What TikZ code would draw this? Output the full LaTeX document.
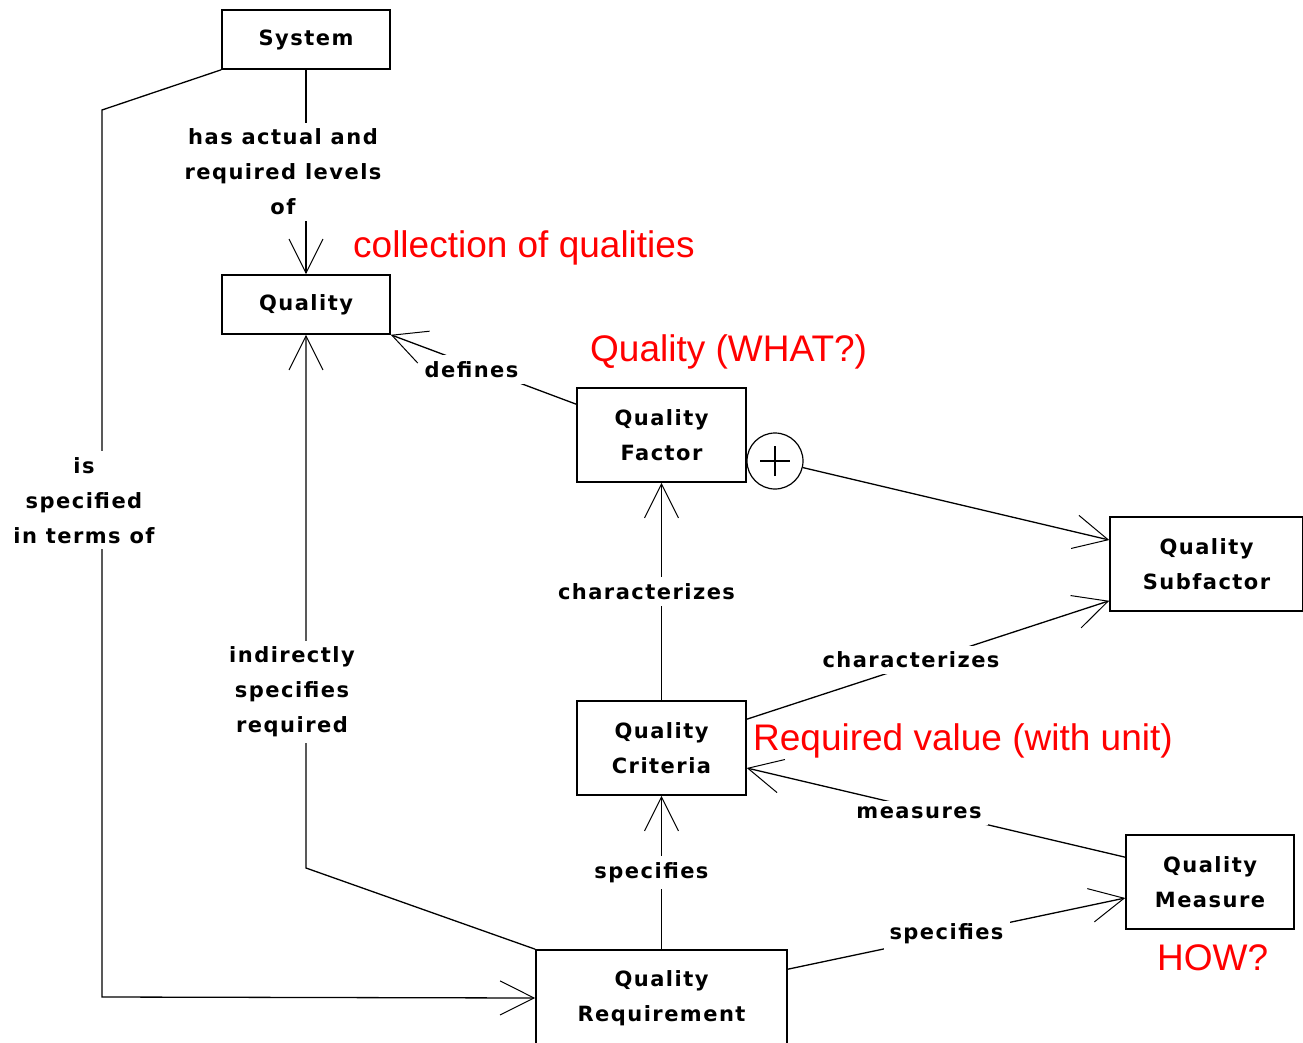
\documentclass[tikz,border=0pt]{standalone}
\usepackage{fontspec}
\newfontfamily\diafont{DejaVu Sans}[LetterSpace=7]
\newfontfamily\notefont{Liberation Sans}
\usetikzlibrary{arrows.meta}

\begin{document}
\begin{tikzpicture}[x=1pt,y=-1pt,
        box/.style={draw,rectangle,line width=1.6pt,inner sep=0pt,align=center,
            font=\diafont\bfseries\fontsize{21}{35}\selectfont},
        lbl/.style={midway,fill=white,inner sep=6pt,align=center,
            font=\diafont\bfseries\fontsize{21}{35}\selectfont},
        note/.style={anchor=west,inner sep=0pt,text=red,font=\notefont\fontsize{37}{44}\selectfont},
        arr/.style={line width=1.3pt,-{Straight Barb[length=34pt,width=34pt,line width=1pt]}}]
        \useasboundingbox (0,0) rectangle (1303,1043);

        \node[box,minimum width=168pt,minimum height=59pt] (SY) at (306,39.5) {System};
        \node[box,minimum width=168pt,minimum height=59pt] (QU) at (306,304.5) {Quality};
        \node[box,minimum width=169pt,minimum height=94pt] (QF) at (661.5,435) {Quality\\Factor};
        \node[box,minimum width=193pt,minimum height=94pt] (QS) at (1206.5,564) {Quality\\Subfactor};
        \node[box,minimum width=169pt,minimum height=94pt] (QC) at (661.5,748) {Quality\\Criteria};
        \node[box,minimum width=168pt,minimum height=94pt] (QM) at (1210,882) {Quality\\Measure};
        \node[box,minimum width=251pt,minimum height=96pt] (QR) at (661.5,998) {Quality\\Requirement};
        \node[draw,circle,line width=1.2pt,minimum size=56pt,inner sep=0pt] (OR) at (775,461) {};
        \draw[line width=1.2pt] ([xshift=-15pt]OR.center) -- ([xshift=15pt]OR.center)
            ([yshift=-15pt]OR.center) -- ([yshift=15pt]OR.center);

        \path (SY) edge[arr] node[lbl,xshift=-23pt]{has actual and\\required levels\\of} (QU);
        \draw[arr] (SY.south west) -- (102,110) -- node[lbl,pos=0.44,xshift=-18pt]{is\\specified\\in terms of} (102,997) -- (QR.west);
        \draw[arr] (QR.north west) -- (306,868) -- node[lbl,pos=0.33,xshift=-14pt]{indirectly\\specifies\\required} (QU.south);
        \path ([yshift=-17pt]QF.north west) edge[arr] node[lbl,xshift=-12pt]{defines} (QU.south east);
        \path (OR) edge[arr] ([yshift=24pt]QS.west);
        \path (QC) edge[arr] node[lbl,xshift=-15pt]{characterizes} (QF);
        \path ([yshift=-19pt]QC.north east) edge[arr] node[lbl,xshift=-17pt]{characterizes} ([yshift=11pt]QS.south west);
        \path ([yshift=-23pt]QM.north west) edge[arr] node[lbl,xshift=-17pt]{measures} ([yshift=-20pt]QC.east);
        \path (QR) edge[arr] node[lbl,xshift=-10pt]{specifies} (QC);
        \path ([yshift=-20pt]QR.north east) edge[arr] node[lbl,xshift=-10pt]{specifies} ([yshift=-16pt]QM.west);

        \node[note] (N1) at (353,248) {collection of qualities};
        \node[note] (N2) at (590,352) {Quality (WHAT?)};
        \node[note] (N3) at (753,741) {Required value (with unit)};
        \node[note] (N4) at (1157,958) {HOW?};
    \end{tikzpicture}
\end{document}
